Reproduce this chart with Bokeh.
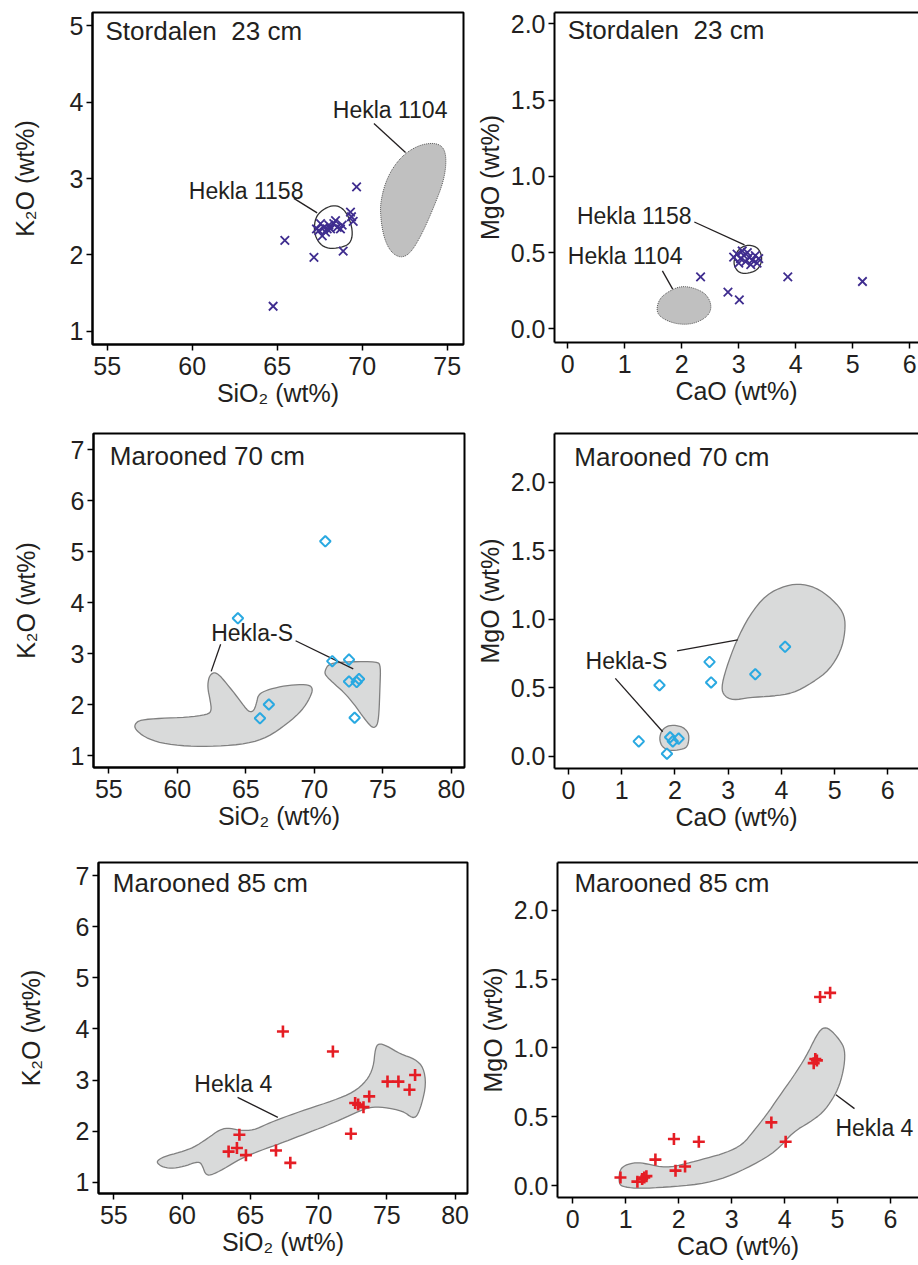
import numpy as np
from bokeh.plotting import figure
from bokeh.layouts import column, row
from bokeh.models import Range1d, FixedTicker, PrintfTickFormatter, LinearAxis, Label
from bokeh.embed import file_html
from bokeh.resources import INLINE

# ---------------- data ----------------
# Stordalen 23 cm
sto_sio2 = [64.76, 65.45, 67.16, 68.88, 69.67, 69.31, 69.47, 69.37, 67.31, 67.55, 67.74,
            67.84, 68.04, 68.14, 68.33, 68.43, 68.53, 68.72, 68.82, 67.65, 67.45, 67.94]
sto_k2o = [1.33, 2.19, 1.97, 2.05, 2.89, 2.56, 2.44, 2.50, 2.34, 2.41, 2.36,
           2.30, 2.39, 2.34, 2.41, 2.45, 2.36, 2.34, 2.39, 2.25, 2.32, 2.34]
sto_cao = [2.33, 2.81, 3.01, 3.86, 5.17, 2.91, 2.97, 3.03, 3.09, 3.12, 3.18, 3.24, 3.29,
           3.32, 3.06, 3.21, 3.35, 3.00, 3.15]
sto_mgo = [0.34, 0.24, 0.19, 0.34, 0.31, 0.47, 0.49, 0.46, 0.48, 0.44, 0.47, 0.45, 0.48,
           0.43, 0.51, 0.42, 0.46, 0.43, 0.50]

# Marooned 70 cm
m70_sio2 = [70.8, 64.42, 71.31, 72.53, 72.53, 73.09, 73.26, 66.68, 66.03, 72.94]
m70_k2o = [5.2, 3.69, 2.85, 2.88, 2.45, 2.44, 2.50, 2.00, 1.73, 1.74]
m70_cao = [1.32, 1.71, 1.85, 1.91, 1.96, 2.07, 2.65, 2.68, 3.51, 4.07]
m70_mgo = [0.11, 0.52, 0.02, 0.14, 0.11, 0.13, 0.69, 0.54, 0.60, 0.80]

# Marooned 85 cm
m85_sio2 = [67.39, 71.05, 63.41, 64.02, 64.20, 64.68, 66.88, 67.93, 72.37, 72.68, 73.29,
            73.71, 75.05, 75.85, 76.66, 77.07, 72.90]
m85_k2o = [3.95, 3.56, 1.60, 1.67, 1.93, 1.53, 1.62, 1.38, 1.95, 2.55, 2.47,
           2.68, 2.97, 2.97, 2.81, 3.10, 2.52]
m85_cao = [4.67, 4.86, 4.55, 4.61, 4.58, 3.75, 4.02, 1.91, 2.38, 1.56, 2.12, 1.94,
           0.90, 1.22, 1.35, 1.31, 1.39]
m85_mgo = [1.37, 1.40, 0.89, 0.91, 0.92, 0.46, 0.32, 0.34, 0.32, 0.19, 0.14, 0.11,
           0.06, 0.03, 0.06, 0.05, 0.07]

# reference fields (outlines)
h1158_sio2 = [67.25, 67.65, 68.24, 68.73, 69.12, 69.41, 69.41, 69.12, 68.33, 67.75, 67.35, 67.16]
h1158_k2o = [2.49, 2.59, 2.65, 2.63, 2.54, 2.36, 2.21, 2.12, 2.08, 2.10, 2.19, 2.32]
h1104_sio2 = [71.08, 71.47, 72.25, 73.24, 74.22, 74.80, 74.96, 74.80, 74.22, 73.53, 72.84,
              72.25, 71.67, 71.27, 71.08]
h1104_k2o = [2.71, 3.02, 3.28, 3.43, 3.47, 3.41, 3.24, 2.97, 2.63, 2.28, 2.02, 1.96, 2.04,
             2.23, 2.49]
h1158_cao = [2.93, 2.99, 3.13, 3.31, 3.40, 3.40, 3.31, 3.13, 2.99, 2.91]
h1158_mgo = [0.47, 0.52, 0.55, 0.54, 0.49, 0.43, 0.38, 0.36, 0.37, 0.42]
h1104_cao = [1.55, 1.61, 1.79, 1.99, 2.20, 2.43, 2.53, 2.46, 2.20, 1.90, 1.64]
h1104_mgo = [0.12, 0.20, 0.25, 0.28, 0.27, 0.23, 0.15, 0.08, 0.03, 0.03, 0.07]

hs_a_sio2 = [56.9, 57.3, 58.8, 60.7, 62.2, 62.5, 62.4, 62.2, 62.3, 62.6, 63.0, 63.6, 64.4,
             65.0, 65.3, 65.6, 65.8, 65.9, 66.3, 67.3, 68.5, 69.6, 69.9, 69.7, 69.1, 68.0,
             66.6, 65.1, 62.9, 60.7, 58.8, 57.6, 56.9]
hs_a_k2o = [1.62, 1.70, 1.73, 1.75, 1.80, 1.88, 2.08, 2.34, 2.54, 2.63, 2.60, 2.41, 2.14,
            1.92, 1.85, 1.88, 2.05, 2.18, 2.26, 2.34, 2.39, 2.39, 2.31, 2.14, 1.88, 1.62,
            1.36, 1.23, 1.18, 1.18, 1.24, 1.36, 1.52]
hs_b_sio2 = [70.75, 71.07, 72.65, 74.60, 74.84, 74.79, 74.72, 74.60, 74.30, 73.99, 73.50,
             72.89, 72.16, 71.31, 70.82]
hs_b_k2o = [2.65, 2.81, 2.84, 2.84, 2.76, 2.34, 1.82, 1.59, 1.54, 1.61, 1.78, 2.01, 2.24,
            2.44, 2.57]
hs_a_cao = [1.73, 1.80, 1.93, 2.12, 2.22, 2.27, 2.24, 2.12, 1.90, 1.76, 1.71]
hs_a_mgo = [0.17, 0.21, 0.23, 0.22, 0.19, 0.15, 0.07, 0.05, 0.04, 0.07, 0.12]
hs_b_cao = [2.87, 2.96, 3.15, 3.40, 3.71, 4.09, 4.40, 4.72, 5.03, 5.19, 5.20, 5.12, 4.90,
            4.59, 4.21, 3.84, 3.40, 3.09, 2.93]
hs_b_mgo = [0.50, 0.64, 0.84, 1.03, 1.18, 1.25, 1.26, 1.22, 1.12, 1.03, 0.91, 0.77, 0.63,
            0.54, 0.46, 0.44, 0.43, 0.41, 0.44]

h4_sio2 = [58.17, 58.66, 59.88, 60.85, 61.83, 62.80, 63.54, 64.27, 65.24, 66.22, 67.44, 69.15,
           71.10, 72.56, 73.54, 74.02, 74.15, 74.39, 75.00, 75.98, 77.07, 77.68, 77.88, 77.56,
           77.20, 76.83, 76.22, 74.76, 73.78, 73.05, 71.59, 70.12, 68.66, 67.20, 65.73, 64.27,
           63.05, 62.07, 61.71, 61.54, 61.34, 60.98, 60.37, 59.39, 58.66, 58.22]
h4_k2o = [1.42, 1.50, 1.59, 1.68, 1.85, 2.04, 2.06, 2.01, 2.02, 2.14, 2.27, 2.43,
          2.60, 2.76, 2.99, 3.25, 3.61, 3.72, 3.67, 3.51, 3.41, 3.25, 2.92, 2.53,
          2.28, 2.26, 2.39, 2.47, 2.47, 2.40, 2.22, 2.06, 1.91, 1.76, 1.62, 1.46,
          1.26, 1.13, 1.16, 1.29, 1.39, 1.39, 1.33, 1.27, 1.29, 1.36]
h4_cao = [0.87, 0.88, 0.98, 1.20, 1.39, 1.76, 2.14, 2.52, 2.90, 3.21, 3.40, 3.65, 3.90, 4.16,
          4.41, 4.60, 4.72, 4.85, 5.04, 5.14, 5.13, 5.04, 4.91, 4.72, 4.47, 4.16, 3.84, 3.40,
          2.90, 2.39, 1.76, 1.26, 0.98]
h4_mgo = [0.01, 0.11, 0.15, 0.17, 0.16, 0.13, 0.16, 0.20, 0.24, 0.30, 0.39, 0.51, 0.65, 0.79,
          0.94, 1.09, 1.15, 1.14, 1.06, 0.99, 0.87, 0.73, 0.63, 0.53, 0.46, 0.39, 0.25, 0.15,
          0.06, 0.01, -0.01, -0.02, -0.01]

# leader lines (label -> field): x0, y0, x1, y1
lead1 = dict(x0=[70.69, 65.98], y0=[3.72, 2.74], x1=[72.55, 67.35], y1=[3.34, 2.55])
lead2 = dict(x0=[2.22, 1.66], y0=[0.70, 0.38], x1=[3.10, 1.84], y1=[0.55, 0.26])
lead3 = dict(x0=[63.16, 68.63], y0=[3.18, 3.25], x1=[62.47, 72.84], y1=[2.65, 2.70])
lead4 = dict(x0=[2.04, 0.88], y0=[0.77, 0.57], x1=[3.18, 1.77], y1=[0.85, 0.18])
lead5 = dict(x0=[64.07], y0=[2.66], x1=[67.02], y1=[2.27])
lead6 = dict(x0=[4.97], y0=[0.66], x1=[5.32], y1=[0.56])

sio2_ticks_a = [55, 60, 65, 70, 75]
sio2_ticks_b = [55, 60, 65, 70, 75, 80]
k2o_ticks_a = [1, 2, 3, 4, 5]
k2o_ticks_b = [1, 2, 3, 4, 5, 6, 7]
cao_ticks = [0, 1, 2, 3, 4, 5, 6]
mgo_ticks = [0.0, 0.5, 1.0, 1.5, 2.0]

# ---------------- style ----------------
FONT = "Liberation Sans"
TXT = "#231f20"
FIELD_FILL = "#d9dada"
FIELD_LINE = "#808080"
PURPLE = "#3f2d8f"
BLUE = "#2aa9e1"
RED = "#e51d24"


def smooth(xs, ys, n=2):
    pts = np.column_stack([xs, ys]).astype(float)
    for _ in range(n):
        nxt = np.roll(pts, -1, axis=0)
        q = 0.75 * pts + 0.25 * nxt
        r = 0.25 * pts + 0.75 * nxt
        out = np.empty((2 * len(pts), 2))
        out[0::2] = q
        out[1::2] = r
        pts = out
    return list(pts[:, 0]), list(pts[:, 1])


def make_fig(geo, xr, yr, xticks, yticks, yfmt, xlabel, ylabel, left_col):
    bl, fw, br, bt, fh, bb = geo
    p = figure(frame_width=fw, frame_height=fh, min_border_left=bl, min_border_right=br,
               min_border_top=bt, min_border_bottom=bb,
               x_range=Range1d(*xr), y_range=Range1d(*yr),
               output_backend="svg", toolbar_location=None)
    p.xgrid.visible = False
    p.ygrid.visible = False
    p.background_fill_color = "white"
    p.border_fill_color = "white"
    xax = p.below[0]
    yax = p.left[0]
    for ax, ticks in ((xax, xticks), (yax, yticks)):
        ax.ticker = FixedTicker(ticks=ticks)
        ax.axis_line_width = 2
        ax.axis_line_color = "black"
        ax.major_tick_line_width = 1.5
        ax.major_tick_line_color = "black"
        ax.major_tick_out = 6
        ax.major_tick_in = 0
        ax.minor_tick_out = 0
        ax.minor_tick_in = 0
        ax.major_label_text_font = FONT
        ax.major_label_text_font_size = "25px"
        ax.major_label_text_color = TXT
        ax.axis_label_text_font = FONT
        ax.axis_label_text_font_size = "25px"
        ax.axis_label_text_color = TXT
        ax.axis_label_text_font_style = "normal"
    xax.formatter = PrintfTickFormatter(format="%d")
    yax.formatter = PrintfTickFormatter(format=yfmt)
    xax.axis_label = xlabel
    yax.axis_label = ylabel
    xax.major_label_standoff = 6
    xax.axis_label_standoff = 1
    yax.major_label_standoff = 3
    yax.axis_label_standoff = 28 if left_col else 4
    if left_col:
        p.outline_line_color = "black"
        p.outline_line_width = 2
        p.outline_line_alpha = 1
    else:
        p.outline_line_color = None
        top = LinearAxis(ticker=FixedTicker(ticks=[]), major_tick_out=0, major_tick_in=0,
                         minor_tick_out=0, minor_tick_in=0, axis_line_width=2,
                         axis_line_color="black", major_label_text_font_size="0px",
                         axis_label=None)
        p.add_layout(top, "above")
    return p


def field(p, xs, ys, fill=FIELD_FILL, line=FIELD_LINE, dash="solid", lw=1.3):
    sx, sy = smooth(xs, ys)
    p.patch(sx, sy, fill_color=fill, line_color=line, line_width=lw, line_dash=dash)


def label(p, x, y, text, size="23px"):
    p.add_layout(Label(x=x, y=y, text=text, text_font=FONT, text_font_size=size,
                       text_color=TXT, text_baseline="middle", text_align="left"))


def leaders(p, d):
    p.segment(x0=d["x0"], y0=d["y0"], x1=d["x1"], y1=d["y1"], line_color="#231f20",
              line_width=1.3)


SIO2 = "SiO\u2082 (wt%)"
K2O = "K\u2082O (wt%)"
CAO = "CaO (wt%)"
MGO = "MgO (wt%)"
STO = "Stordalen\u00a0 23 cm"

# ---- row 1
p1 = make_fig((92, 371, 2, 12, 332, 76), (54.135, 75.959), (0.83, 5.17),
              sio2_ticks_a, k2o_ticks_a, "%d", SIO2, K2O, True)
field(p1, h1104_sio2, h1104_k2o, fill="#c0c0c0", line="#555555", dash="1 1", lw=1)
field(p1, h1158_sio2, h1158_k2o, fill=None, line="#333333", lw=1.3)
leaders(p1, lead1)
p1.scatter(sto_sio2, sto_k2o, marker="x", size=12, line_color=PURPLE, line_width=1.8)
label(p1, 54.9, 4.93, STO, "26px")
label(p1, 68.27, 3.90, "Hekla 1104")
label(p1, 59.80, 2.84, "Hekla 1158")

p2 = make_fig((89, 364, 0, 12, 330, 78), (-0.233, 6.153), (-0.09, 2.074),
              cao_ticks, mgo_ticks, "%.1f", CAO, MGO, False)
field(p2, h1104_cao, h1104_mgo, fill="#c0c0c0", line="#555555", dash="1 1", lw=1)
field(p2, h1158_cao, h1158_mgo, fill=None, line="#333333", lw=1.3)
leaders(p2, lead2)
p2.scatter(sto_cao, sto_mgo, marker="x", size=12, line_color=PURPLE, line_width=1.8)
label(p2, 0.0, 1.96, STO, "26px")
label(p2, 0.16, 0.74, "Hekla 1158")
label(p2, 0.0, 0.48, "Hekla 1104")

# ---- row 2
p3 = make_fig((93, 371, 2, 13, 334, 73), (53.88, 80.96), (0.765, 7.314),
              sio2_ticks_b, k2o_ticks_b, "%d", SIO2, K2O, True)
field(p3, hs_a_sio2, hs_a_k2o)
field(p3, hs_b_sio2, hs_b_k2o)
leaders(p3, lead3)
p3.scatter(m70_sio2, m70_k2o, marker="square", angle=np.pi / 4, size=7.5, fill_color=None,
           line_color=BLUE, line_width=2)
label(p3, 55.07, 6.87, "Marooned 70 cm", "26px")
label(p3, 62.47, 3.41, "Hekla-S")

p4 = make_fig((88, 364, 0, 12, 335, 73), (-0.263, 6.577), (-0.088, 2.357),
              cao_ticks, mgo_ticks, "%.1f", CAO, MGO, False)
field(p4, hs_a_cao, hs_a_mgo)
field(p4, hs_b_cao, hs_b_mgo)
leaders(p4, lead4)
p4.scatter(m70_cao, m70_mgo, marker="square", angle=np.pi / 4, size=7.5, fill_color=None,
           line_color=BLUE, line_width=2)
label(p4, 0.11, 2.185, "Marooned 70 cm", "26px")
label(p4, 0.32, 0.70, "Hekla-S")

# ---- row 3
p5 = make_fig((98, 369, 2, 22, 331, 72), (53.88, 80.91), (0.78, 7.257),
              sio2_ticks_b, k2o_ticks_b, "%d", SIO2, K2O, True)
field(p5, h4_sio2, h4_k2o)
leaders(p5, lead5)
p5.scatter(m85_sio2, m85_k2o, marker="cross", size=12, line_color=RED, line_width=2.6)
label(p5, 54.93, 6.86, "Marooned 85 cm", "26px")
label(p5, 60.90, 2.92, "Hekla 4")

p6 = make_fig((88, 361, 0, 20, 335, 70), (-0.289, 6.529), (-0.085, 2.346),
              cao_ticks, mgo_ticks, "%.1f", CAO, MGO, False)
field(p6, h4_cao, h4_mgo)
leaders(p6, lead6)
p6.scatter(m85_cao, m85_mgo, marker="cross", size=12, line_color=RED, line_width=2.6)
label(p6, 0.03, 2.20, "Marooned 85 cm", "26px")
label(p6, 4.96, 0.42, "Hekla 4")

layout = column(row(p1, p2), row(p3, p4), row(p5, p6))

open("out.html", "w").write(file_html(layout, INLINE))
